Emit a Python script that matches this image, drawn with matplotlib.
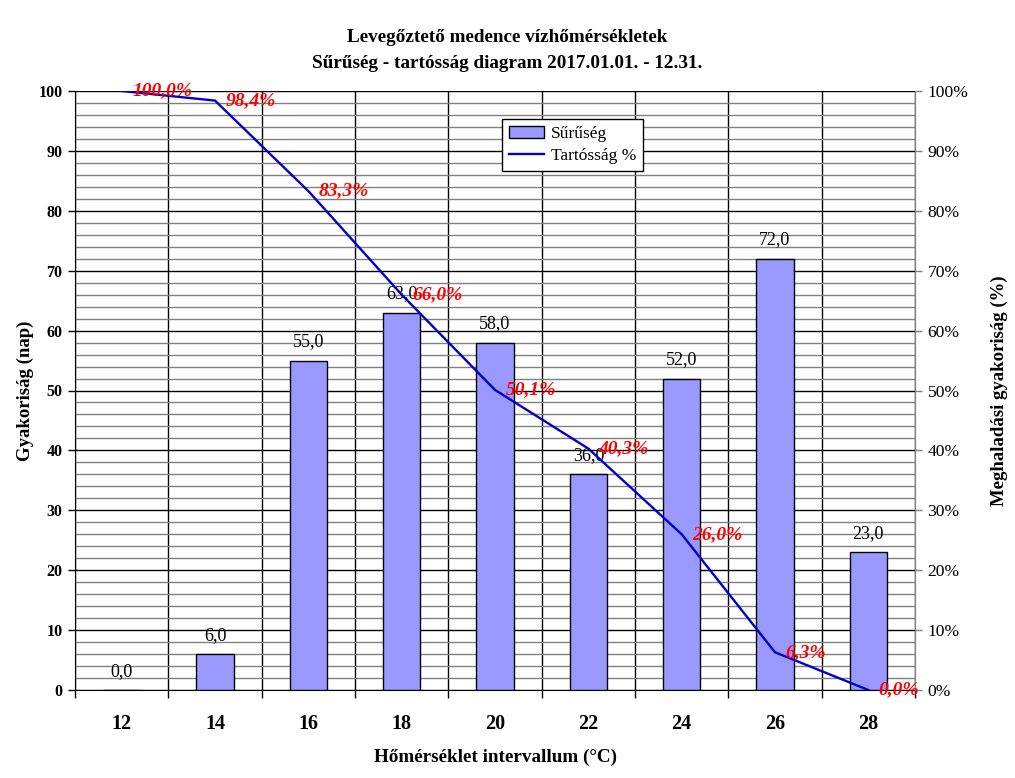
import matplotlib
matplotlib.use("Agg")
import matplotlib.pyplot as plt
from matplotlib.ticker import MultipleLocator, FixedLocator, FuncFormatter

plt.rcParams['font.family'] = ['Liberation Serif', 'DejaVu Serif']

categories = ["12", "14", "16", "18", "20", "22", "24", "26", "28"]
density = [0.0, 6.0, 55.0, 63.0, 58.0, 36.0, 52.0, 72.0, 23.0]
exceedance = [100.0, 98.4, 83.3, 66.0, 50.1, 40.3, 26.0, 6.3, 0.0]

W, H = 1015, 778
fig = plt.figure(figsize=(W / 100, H / 100), dpi=100)
ax = fig.add_axes([75 / W, (H - 690) / H, 840 / W, 599 / H])
x = list(range(len(categories)))

ax.set_xlim(-0.5, len(categories) - 0.5)
ax.set_ylim(0, 100)

# gridlines
ax.yaxis.set_major_locator(MultipleLocator(10))
ax.yaxis.set_minor_locator(MultipleLocator(2))
ax.grid(which='minor', axis='y', color='#808080', linewidth=1.0, zorder=0)
ax.grid(which='major', axis='y', color='black', linewidth=1.0, zorder=0)
ax.xaxis.set_major_locator(FixedLocator([i - 0.5 for i in range(len(categories) + 1)]))
ax.xaxis.set_minor_locator(FixedLocator(x))
ax.xaxis.set_minor_formatter(FuncFormatter(lambda v, p: categories[int(round(v))]))
ax.xaxis.set_major_formatter(FuncFormatter(lambda v, p: ""))
ax.grid(which='major', axis='x', color='black', linewidth=1.0, zorder=0)
ax.set_axisbelow(True)

ax.tick_params(axis='x', which='major', length=6, width=1, direction='out', color='black')
ax.tick_params(axis='x', which='minor', length=0, pad=17, labelsize=14.5)
ax.tick_params(axis='y', which='major', length=5, width=1, direction='out', labelsize=11.5, pad=4)
ax.tick_params(axis='y', which='minor', length=0)
for lab in ax.get_xticklabels(minor=True) + ax.get_yticklabels():
    lab.set_fontweight('bold')

ax.spines['top'].set_visible(False)
ax.spines['right'].set_color('#808080')
ax.spines['left'].set_color('black')
ax.spines['bottom'].set_color('black')

bars = ax.bar(x, density, width=0.4, color='#9999FF', edgecolor='black', linewidth=1.0,
              zorder=3, label='Sűrűség')
for xi, v in zip(x, density):
    ax.annotate(f"{v:.1f}".replace('.', ','), (xi, v), xytext=(0, 13.5), textcoords='offset points',
                ha='center', va='center', fontsize=13, color='black', zorder=6)

ax.set_ylabel('Gyakoriság (nap)', fontsize=13.5, fontweight='bold', labelpad=3)
ax.set_xlabel('Hőmérséklet intervallum (°C)', fontsize=13.8, fontweight='bold', labelpad=11)

ax2 = ax.twinx()
ax2.set_ylim(0, 100)
ax2.yaxis.set_major_locator(MultipleLocator(10))
ax2.yaxis.set_major_formatter(FuncFormatter(lambda v, p: f"{int(round(v))}%"))
ax2.tick_params(axis='y', length=5, width=1, color='#808080', labelsize=12.6, pad=4)
for sp in ['top', 'left', 'bottom']:
    ax2.spines[sp].set_visible(False)
ax2.spines['right'].set_color('#808080')
line, = ax2.plot(x, exceedance, color='#0000CC', linewidth=1.7, zorder=4, label='Tartósság %')
for xi, v in zip(x, exceedance):
    ax2.annotate(f"{v:.1f}%".replace('.', ','), (xi, v), xytext=(7.5, 0), textcoords='offset points',
                 ha='left', va='center', fontsize=14, color='red', fontweight='bold',
                 fontstyle='italic', zorder=7, annotation_clip=False)
ax2.set_ylabel('Meghaladási gyakoriság (%)', fontsize=13.5, fontweight='bold', labelpad=16)

leg = ax2.legend([bars, line], ['Sűrűség', 'Tartósság %'], loc='upper left',
                 bbox_to_anchor=((502 - 75) / 840, (690 - 119) / 599), fancybox=False,
                 edgecolor='black', framealpha=1, fontsize=12.5, borderpad=0.4,
                 handlelength=2.0, handletextpad=0.4, labelspacing=0.35, borderaxespad=0)
leg.get_frame().set_linewidth(1.0)

fig.text(0.5, 1 - 38 / H, 'Levegőztető medence vízhőmérsékletek', ha='center', va='center',
         fontsize=13.8, fontweight='bold')
fig.text(0.5, 1 - 63 / H, 'Sűrűség - tartósság diagram 2017.01.01. - 12.31.', ha='center',
         va='center', fontsize=13.8, fontweight='bold')

fig.savefig('out.png', dpi=100)
